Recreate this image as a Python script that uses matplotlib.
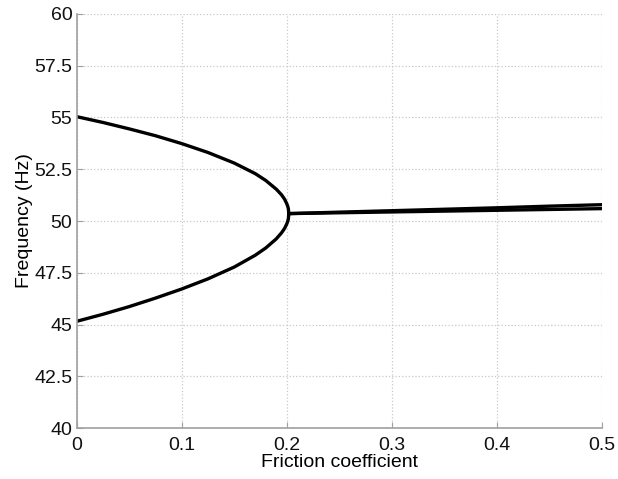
import matplotlib
matplotlib.use("Agg")
import matplotlib.pyplot as plt

plt.rcParams['font.family'] = ['Liberation Sans', 'DejaVu Sans']

# Branches before the coalescence point
mu_split = [0, 0.025, 0.05, 0.075, 0.1, 0.125, 0.15, 0.17, 0.18, 0.19,
            0.195, 0.198, 0.2, 0.201, 0.2015, 0.202]
f_upper = [55.04, 54.76, 54.45, 54.12, 53.74, 53.31, 52.80, 52.29, 51.96, 51.54,
           51.27, 51.05, 50.84, 50.70, 50.60, 50.36]
f_lower = [45.16, 45.50, 45.87, 46.28, 46.72, 47.21, 47.78, 48.35, 48.70, 49.14,
           49.43, 49.65, 49.86, 50.00, 50.10, 50.36]

# Branches after coalescence
mu_merged = [0.202, 0.25, 0.3, 0.35, 0.4, 0.45, 0.5]
f_merged_a = [50.36, 50.43, 50.50, 50.57, 50.64, 50.72, 50.79]
f_merged_b = [50.36, 50.40, 50.44, 50.48, 50.52, 50.56, 50.60]

fig = plt.figure(figsize=(6.18, 4.79), dpi=100)
ax = fig.add_axes([0.124, 0.106, 0.850, 0.865])

lw = 2.4
ax.plot(mu_split, f_upper, color='black', lw=lw, solid_capstyle='round')
ax.plot(mu_split, f_lower, color='black', lw=lw, solid_capstyle='round')
ax.plot(mu_merged, f_merged_a, color='black', lw=lw)
ax.plot(mu_merged, f_merged_b, color='black', lw=lw)

ax.set_xlim(0, 0.5)
ax.set_ylim(40, 60)
ax.set_xticks([0, 0.1, 0.2, 0.3, 0.4, 0.5])
ax.set_xticklabels(['0', '0.1', '0.2', '0.3', '0.4', '0.5'])
ax.set_yticks([40, 42.5, 45, 47.5, 50, 52.5, 55, 57.5, 60])
ax.set_yticklabels(['40', '42.5', '45', '47.5', '50', '52.5', '55', '57.5', '60'])

ax.grid(True, color='#c8c8c8', linestyle=':', linewidth=0.9)
ax.set_axisbelow(True)

for side in ['top', 'right']:
    ax.spines[side].set_visible(False)
for side in ['left', 'bottom']:
    ax.spines[side].set_color('#a0a0a0')
    ax.spines[side].set_linewidth(1.2)

ax.tick_params(direction='in', length=4, color='#a0a0a0', labelsize=14,
               labelcolor='#111111')
ax.tick_params(axis='y', pad=3)
ax.tick_params(axis='x', pad=6)

ax.set_xlabel('Friction coefficient', fontsize=14, labelpad=0)
ax.set_ylabel('Frequency (Hz)', fontsize=14, labelpad=1)

fig.savefig('out.png', dpi=100)
